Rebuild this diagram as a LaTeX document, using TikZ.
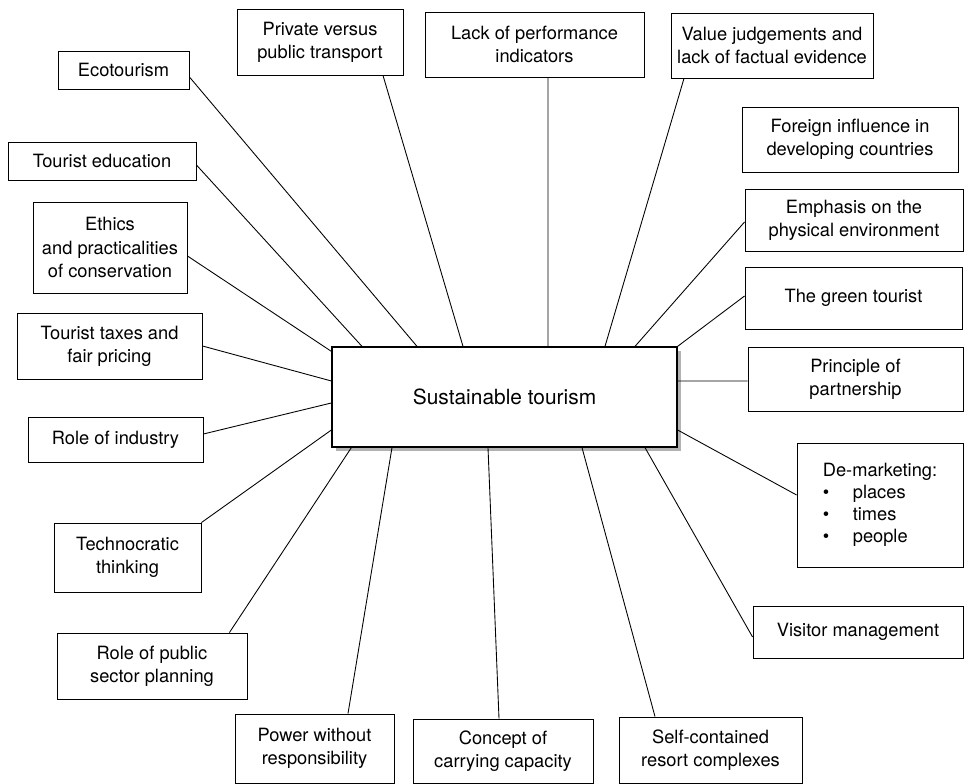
\documentclass[tikz,border=0pt]{standalone}
\usepackage{fontspec}
\setmainfont{TeX Gyre Heros}
\usepackage{xcolor}
\usepackage{tikz}
\usetikzlibrary{positioning,shadows}

\begin{document}
\begin{tikzpicture}[
    topic/.style={draw, line width=0.5pt, align=center, inner sep=2pt,
                  font=\fontsize{10.4}{13.1}\selectfont},
    sz/.style 2 args={minimum width=#1cm, minimum height=#2cm},
    core/.style={draw, line width=0.7pt, fill=white, minimum width=6.9cm, minimum height=2cm,
                 font=\fontsize{11.9}{14}\selectfont,
                 drop shadow={shadow xshift=0.08cm, shadow yshift=-0.08cm, fill=gray!60, opacity=1}},
    link/.style={line width=0.5pt}
  ]
  \useasboundingbox (0,0) rectangle (19.3,15.68);

  % ---------------- centre ----------------
  \node[core] (st) at (10.09,7.74) {Sustainable tourism};

  % ---------------- top row ----------------
  \node[topic, sz={3.32}{1.32}] (ptr) at (6.40,14.84) {Private versus\\public transport};
  \node[topic, sz={4.38}{1.30}] (lpi) at (10.69,14.79) {Lack of performance\\indicators};
  \node[topic, sz={4.04}{1.30}] (val) at (15.44,14.77) {Value judgements and\\lack of factual evidence};

  % ---------------- right column ----------------
  \node[topic, sz={4.32}{1.30}] (fin) at (17.00,12.89) {Foreign influence in\\developing countries};
  \node[topic, sz={4.36}{1.24}] (emp) at (17.08,11.28) {Emphasis on the\\physical environment};
  \node[topic, sz={4.34}{1.24}] (grn) at (17.07,9.72)  {The green tourist};
  \node[topic, sz={4.30}{1.28}] (par) at (17.11,8.10)  {Principle of\\partnership};
  \node[topic, sz={3.32}{2.48}, align=left, font=\fontsize{10.4}{12.5}\selectfont]
       (dem) at (17.60,5.58)
       {De-marketing:\\\makebox[0.6cm][l]{\textbullet}places\\
        \makebox[0.6cm][l]{\textbullet}times\\\makebox[0.6cm][l]{\textbullet}people};
  \node[topic, sz={4.20}{1.04}] (vis) at (17.16,3.04)  {Visitor management};

  % ---------------- bottom row ----------------
  \node[topic, sz={3.66}{1.32}] (res) at (14.21,0.68) {Self-contained\\resort complexes};
  \node[topic, sz={3.60}{1.28}] (cap) at (10.06,0.66) {Concept of\\carrying capacity};
  \node[topic, sz={3.18}{1.38}] (pow) at (6.29,0.71)  {Power without\\responsibility};

  % ---------------- left column ----------------
  \node[topic, sz={3.80}{1.32}] (pub) at (3.04,2.36)  {Role of public\\sector planning};
  \node[topic, sz={2.94}{1.38}] (tec) at (2.55,4.53)  {Technocratic\\thinking};
  \node[topic, sz={3.50}{0.90}] (ind) at (2.31,6.89)  {Role of industry};
  \node[topic, sz={3.70}{1.32}] (tax) at (2.19,8.76)  {Tourist taxes and\\fair pricing};
  \node[topic, sz={3.08}{1.82}] (eth) at (2.20,10.73) {Ethics\\and practicalities\\of conservation};
  \node[topic, sz={3.76}{0.76}] (edu) at (2.04,12.46) {Tourist education};
  \node[topic, sz={2.62}{0.76}] (eco) at (2.47,14.28) {Ecotourism};

  % ---------------- spokes ----------------
  \draw[link] ([yshift=-0.14cm]eco.east) -- ([xshift=-1.75cm]st.north);
  \draw[link] ([yshift=-0.08cm]edu.east) -- ([xshift=-2.85cm]st.north);
  \draw[link] ([yshift=-0.17cm]eth.east) -- ([yshift=-0.10cm]st.north west);
  \draw[link] (tax.east) -- ([yshift=0.32cm]st.west);
  \draw[link] ([yshift=0.11cm]ind.east) -- ([yshift=-0.12cm]st.west);
  \draw[link] (tec.north east) -- ([yshift=-0.66cm]st.west);
  \draw[link] ([xshift=-0.36cm]pub.north east) -- ([xshift=0.40cm]st.south west);
  \draw[link] ([xshift=0.67cm]pow.north) -- ([xshift=-2.25cm]st.south);
  \draw[link] ([xshift=-0.08cm]cap.north) -- ([xshift=-0.33cm]st.south);
  \draw[link] ([xshift=-1.11cm]res.north) -- ([xshift=1.55cm]st.south);
  \draw[link] ([yshift=-0.10cm]vis.west) -- ([xshift=2.81cm]st.south);
  \draw[link] ([yshift=0.20cm]dem.west) -- ([yshift=-0.66cm]st.east);
  \draw[link] ([yshift=-0.04cm]par.west) -- ([yshift=0.32cm]st.east);
  \draw[link] ([yshift=0.04cm]grn.west) -- (st.north east);
  \draw[link] ([yshift=-0.04cm]emp.west) -- ([xshift=2.61cm]st.north);
  \draw[link] ([xshift=-1.76cm]val.south) -- ([xshift=2.01cm]st.north);
  \draw[link] ([xshift=0.27cm]lpi.south) -- ([xshift=0.87cm]st.north);
  \draw[link] ([xshift=1.26cm]ptr.south) -- ([xshift=-0.83cm]st.north);
\end{tikzpicture}
\end{document}
